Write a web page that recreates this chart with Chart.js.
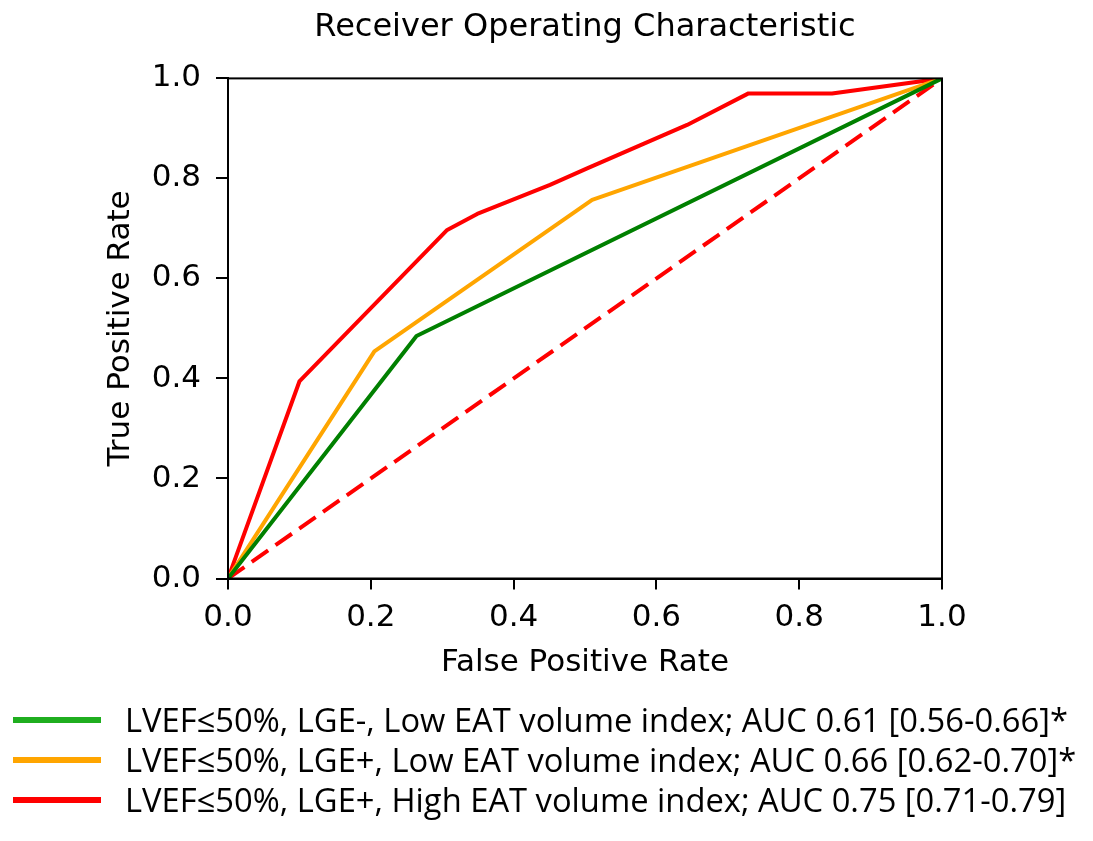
<!DOCTYPE html>
<html>
<head>
<meta charset="utf-8">
<script src="https://cdn.jsdelivr.net/npm/chart.js@4.4.1/dist/chart.umd.min.js"></script>
<style>
  html, body { margin: 0; padding: 0; background: #ffffff; }
  #wrap { position: relative; width: 1093px; height: 841px; overflow: hidden; background: #fff; }
  #c { position: absolute; left: 0; top: 0; }
  .lg-row { position: absolute; left: 0; height: 40px; width: 1093px; }
  .lg-sw { position: absolute; left: 13px; width: 88px; height: 6px; top: 17px; }
  .lg-tx { position: absolute; left: 125px; top: 0; line-height: 40px; white-space: nowrap;
           font-family: "Open Sans", "Noto Sans", sans-serif; font-size: 33px; color: #000;
           transform-origin: 0 50%; }
</style>
</head>
<body>
<div id="wrap">
  <canvas id="c" width="1093" height="841"></canvas>
  <div id="legend"></div>
</div>
<script>
// ---- data ----
const titleText = "Receiver Operating Characteristic";
const xAxisTitle = "False Positive Rate";
const yAxisTitle = "True Positive Rate";
const tickValues = [0.0, 0.2, 0.4, 0.6, 0.8, 1.0];

const seriesLabels = [
  "LVEF\u226450%, LGE-, Low EAT volume index; AUC 0.61 [0.56-0.66]*",
  "LVEF\u226450%, LGE+, Low EAT volume index; AUC 0.66 [0.62-0.70]*",
  "LVEF\u226450%, LGE+, High EAT volume index; AUC 0.75 [0.71-0.79]"
];

const greenFpr = [0.0, 0.264, 1.0];
const greenTpr = [0.0, 0.485, 1.0];

const orangeFpr = [0.0, 0.205, 0.510, 1.0];
const orangeTpr = [0.0, 0.454, 0.757, 1.0];

const redFpr = [0.0, 0.100, 0.307, 0.349, 0.451, 0.503, 0.643, 0.729, 0.846, 1.0];
const redTpr = [0.0, 0.394, 0.697, 0.729, 0.787, 0.820, 0.907, 0.970, 0.970, 1.0];

const chanceFpr = [0.0, 1.0];
const chanceTpr = [0.0, 1.0];

const lineColors = ["#008000", "#FFA500", "#FF0000"];
const legendColors = ["#1fae1f", "#FFA500", "#FF0000"];

function pts(xs, ys) { return xs.map((x, i) => ({ x: x, y: ys[i] })); }

const datasets = [
  { label: seriesLabels[0], data: pts(greenFpr, greenTpr), borderColor: lineColors[0] },
  { label: seriesLabels[1], data: pts(orangeFpr, orangeTpr), borderColor: lineColors[1] },
  { label: seriesLabels[2], data: pts(redFpr, redTpr), borderColor: lineColors[2] },
  { label: "chance", data: pts(chanceFpr, chanceTpr), borderColor: "#FF0000", borderDash: [20, 9] }
].map(d => Object.assign({ borderWidth: 4, pointRadius: 0, fill: false, tension: 0, borderCapStyle: 'butt', borderJoinStyle: 'round' }, d));

const framePlugin = {
  id: 'frame',
  afterDatasetsDraw(chart) {
    const { ctx, chartArea: a } = chart;
    ctx.save();
    ctx.strokeStyle = '#000';
    ctx.lineWidth = 2;
    ctx.strokeRect(a.left, a.top, a.right - a.left, a.bottom - a.top);
    ctx.restore();
  }
};

const tickFont = { family: "DejaVu Sans", size: 31 };

const chart = new Chart(document.getElementById('c'), {
  type: 'line',
  data: { datasets: datasets },
  options: {
    responsive: false,
    animation: false,
    devicePixelRatio: 1,
    layout: { padding: { left: 90, right: 151, top: 0, bottom: 152.5 } },
    plugins: {
      legend: { display: false },
      tooltip: { enabled: false },
      title: {
        display: true, text: titleText, color: '#000', fullSize: false,
        font: { family: "DejaVu Sans", size: 32, weight: 'normal', lineHeight: 1.2 },
        padding: { top: 8, bottom: 32 }
      }
    },
    scales: {
      x: {
        type: 'linear', min: 0, max: 1,
        afterBuildTicks: s => { s.ticks = tickValues.map(v => ({ value: v })); },
        afterFit: s => { s.height = 110; },
        ticks: { font: tickFont, color: '#000', padding: 10, maxRotation: 0, callback: v => v.toFixed(1) },
        grid: { display: true, drawOnChartArea: false, drawTicks: true, tickLength: 11, color: '#000', lineWidth: 2 },
        border: { display: true, color: '#000', width: 2 },
        title: { display: true, text: xAxisTitle, color: '#000', font: tickFont, padding: { top: 0, bottom: 7 } }
      },
      y: {
        type: 'linear', min: 0, max: 1,
        afterBuildTicks: s => { s.ticks = tickValues.map(v => ({ value: v })); },
        afterFit: s => { s.width = 138; },
        ticks: { font: tickFont, color: '#000', padding: 15, callback: v => v.toFixed(1) },
        grid: { display: true, drawOnChartArea: false, drawTicks: true, tickLength: 12, color: '#000', lineWidth: 2 },
        border: { display: true, color: '#000', width: 2 },
        title: { display: true, text: yAxisTitle, color: '#000', font: tickFont, padding: { top: 12, bottom: 0 } }
      }
    }
  },
  plugins: [framePlugin]
});

// ---- HTML legend built from the chart's own datasets ----
const rowCenters = [720, 760, 800];
const legendEl = document.getElementById('legend');
const spans = [];
chart.data.datasets.slice(0, 3).forEach((ds, i) => {
  const row = document.createElement('div');
  row.className = 'lg-row';
  row.style.top = (rowCenters[i] - 20) + 'px';
  const sw = document.createElement('div');
  sw.className = 'lg-sw';
  sw.style.background = legendColors[i];
  const tx = document.createElement('span');
  tx.className = 'lg-tx';
  tx.textContent = ds.label;
  row.appendChild(sw); row.appendChild(tx);
  legendEl.appendChild(row);
  spans.push(tx);
});
const w0 = spans[0].getBoundingClientRect().width;
const sx = 943 / w0;
spans.forEach(s => { s.style.transform = 'scaleX(' + sx.toFixed(4) + ')'; });
</script>
</body>
</html>
